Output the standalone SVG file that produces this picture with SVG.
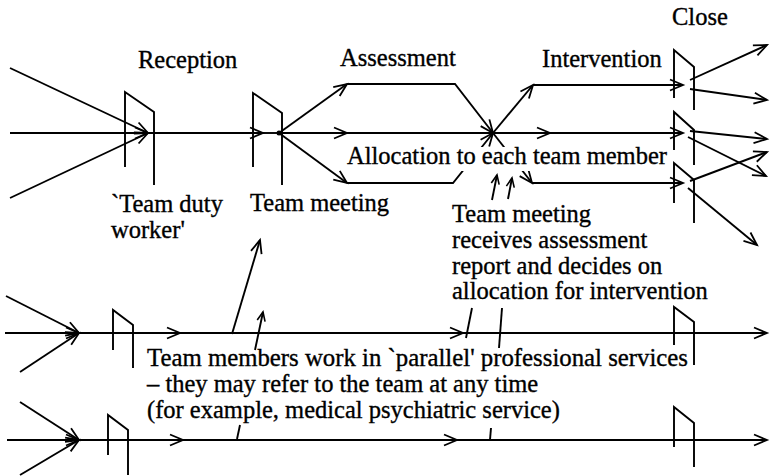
<svg xmlns="http://www.w3.org/2000/svg" width="772" height="476" viewBox="0 0 772 476">
  <defs>
    <style>
      .ln { fill: none; stroke: #000; stroke-width: 1.9; stroke-linecap: butt; }
      .gate { fill: none; stroke: #000; stroke-width: 1.9; stroke-linejoin: miter; }
      .arr { marker-end: url(#ah); }
      .arrs { marker-end: url(#ahs); }
      .lbl { font-family: 'Liberation Serif', 'Times New Roman', Times, serif; font-size: 24.5px; fill: #000; stroke: #000; stroke-width: 0.35; }
      .mask { fill: #fff; stroke: none; }
    </style>
    <!-- open V arrowhead -->
    <marker id="ah" viewBox="-15 -8 19 16" refX="0" refY="0" markerWidth="19" markerHeight="16" markerUnits="userSpaceOnUse" orient="auto">
      <path d="M-13,-5.5 L0,0 L-13,5.5" fill="none" stroke="#000" stroke-width="1.8"/>
    </marker>
    <marker id="ahs" viewBox="-11 -6 15 12" refX="0" refY="0" markerWidth="15" markerHeight="12" markerUnits="userSpaceOnUse" orient="auto">
      <path d="M-9,-4 L0,0 L-9,4" fill="none" stroke="#000" stroke-width="1.6"/>
    </marker>
  </defs>
  <rect width="772" height="476" fill="#fff"/>

  <g id="connectors">
    <!-- row 1: referrals into reception -->
    <path class="ln arr" d="M10,68 L148,133"/>
    <path class="ln arr" d="M10,198 L148,133"/>
    <path class="ln arr" d="M10,133 L148,133"/>
    <path class="ln arr" d="M148,133 L263,133"/>
    <path class="ln" d="M263,133 L279,133"/>
    <!-- assessment branches -->
    <path class="ln arr" d="M279,133 L347,84"/>
    <path class="ln arr" d="M347,84 L455,84 L493,133"/>
    <path class="ln arr" d="M279,133 L347,133"/>
    <path class="ln" d="M347,133 L493,133"/>
    <path class="ln arr" d="M279,133 L347,183"/>
    <path class="ln arr" d="M347,183 L453,183 L493,133"/>
    <!-- allocation to intervention -->
    <path class="ln arr" d="M493,133 L533,85"/>
    <path class="ln arr" d="M533,85 L683,85"/>
    <path class="ln arr" d="M493,133 L550,133"/>
    <path class="ln arr" d="M550,133 L683,133"/>
    <path class="ln arr" d="M493,133 L532,183"/>
    <path class="ln arr" d="M532,183 L683,183"/>
    <!-- outgoing from close -->
    <path class="ln arr" d="M690,80 L767,45"/>
    <path class="ln arr" d="M690,89 L767,100"/>
    <path class="ln arr" d="M690,131 L767,139"/>
    <path class="ln arr" d="M688,137 L766,176"/>
    <path class="ln arr" d="M690,181 L767,152"/>
    <path class="ln arr" d="M688,188 L757,245"/>

    <!-- row 2 -->
    <path class="ln arr" d="M6,296 L79,333"/>
    <path class="ln arr" d="M20,372 L79,333"/>
    <path class="ln arr" d="M5,333 L79,333"/>
    <path class="ln arr" d="M79,333 L180,333"/>
    <path class="ln arr" d="M180,333 L463,333"/>
    <path class="ln arr" d="M463,333 L767,333"/>
    <path class="ln arr" d="M232,334 L260,240"/>
    <path class="ln arrs" d="M255,350 L263,312"/>
    <path class="ln" d="M472,308 L466,338"/>
    <path class="ln" d="M502,308 L499,348"/>

    <!-- row 3 -->
    <path class="ln arr" d="M20,402 L79,440"/>
    <path class="ln arr" d="M20,475 L79,440"/>
    <path class="ln arr" d="M7,440 L79,440"/>
    <path class="ln arr" d="M79,440 L183,440"/>
    <path class="ln arr" d="M183,440 L457,440"/>
    <path class="ln arr" d="M457,440 L767,440"/>
    <path class="ln" d="M240,425 L237,439"/>
    <path class="ln" d="M491,428 L490,440"/>

    <!-- pointers up from the team meeting note -->
    <path class="ln arrs" d="M492,200 L497,175"/>
    <path class="ln arrs" d="M508,199 L512,178"/>
  </g>

  <g id="reception">
    <polyline class="gate" points="125,167 125,92 154,112 154,185"/>
    <text class="lbl" x="138" y="68">Reception</text>
    <text class="lbl" x="111" y="212">`Team duty</text>
    <text class="lbl" x="111" y="238">worker'</text>
  </g>

  <g id="team-meeting">
    <polyline class="gate" points="253,167 253,93 282,113 282,185"/>
    <circle cx="279" cy="133" r="2.5" fill="#000"/>
    <text class="lbl" x="250" y="211">Team meeting</text>
  </g>

  <g id="assessment">
    <text class="lbl" x="340" y="66">Assessment</text>
  </g>

  <g id="allocation">
    <rect class="mask" x="345" y="147" width="325" height="24"/>
    <text class="lbl" x="347" y="164" textLength="320" lengthAdjust="spacingAndGlyphs">Allocation to each team member</text>
  </g>

  <g id="intervention">
    <text class="lbl" x="542" y="67">Intervention</text>
  </g>

  <g id="close">
    <polyline class="gate" points="674,98 674,50 694,67 694,110"/>
    <polyline class="gate" points="674,150 674,112 694,130 694,165"/>
    <polyline class="gate" points="674,203 674,163 694,180 694,223"/>
    <text class="lbl" x="672" y="25">Close</text>
  </g>

  <g id="meeting-note">
    <text class="lbl" x="452" y="222">Team meeting</text>
    <text class="lbl" x="452" y="248">receives assessment</text>
    <text class="lbl" x="452" y="274">report and decides on</text>
    <text class="lbl" x="452" y="299">allocation for intervention</text>
  </g>

  <g id="parallel-service-1">
    <polyline class="gate" points="113,350 113,310 133,325 133,368"/>
    <polyline class="gate" points="674,345 674,307 694,322 694,365"/>
  </g>

  <g id="parallel-service-2">
    <polyline class="gate" points="108,455 108,415 128,430 128,475"/>
    <polyline class="gate" points="674,447 674,407 694,423 694,467"/>
  </g>

  <g id="parallel-note">
    <text class="lbl" x="147" y="366" textLength="541" lengthAdjust="spacingAndGlyphs">Team members work in `parallel' professional services</text>
    <text class="lbl" x="147" y="392">– they may refer to the team at any time</text>
    <text class="lbl" x="147" y="418">(for example, medical psychiatric service)</text>
  </g>
</svg>
